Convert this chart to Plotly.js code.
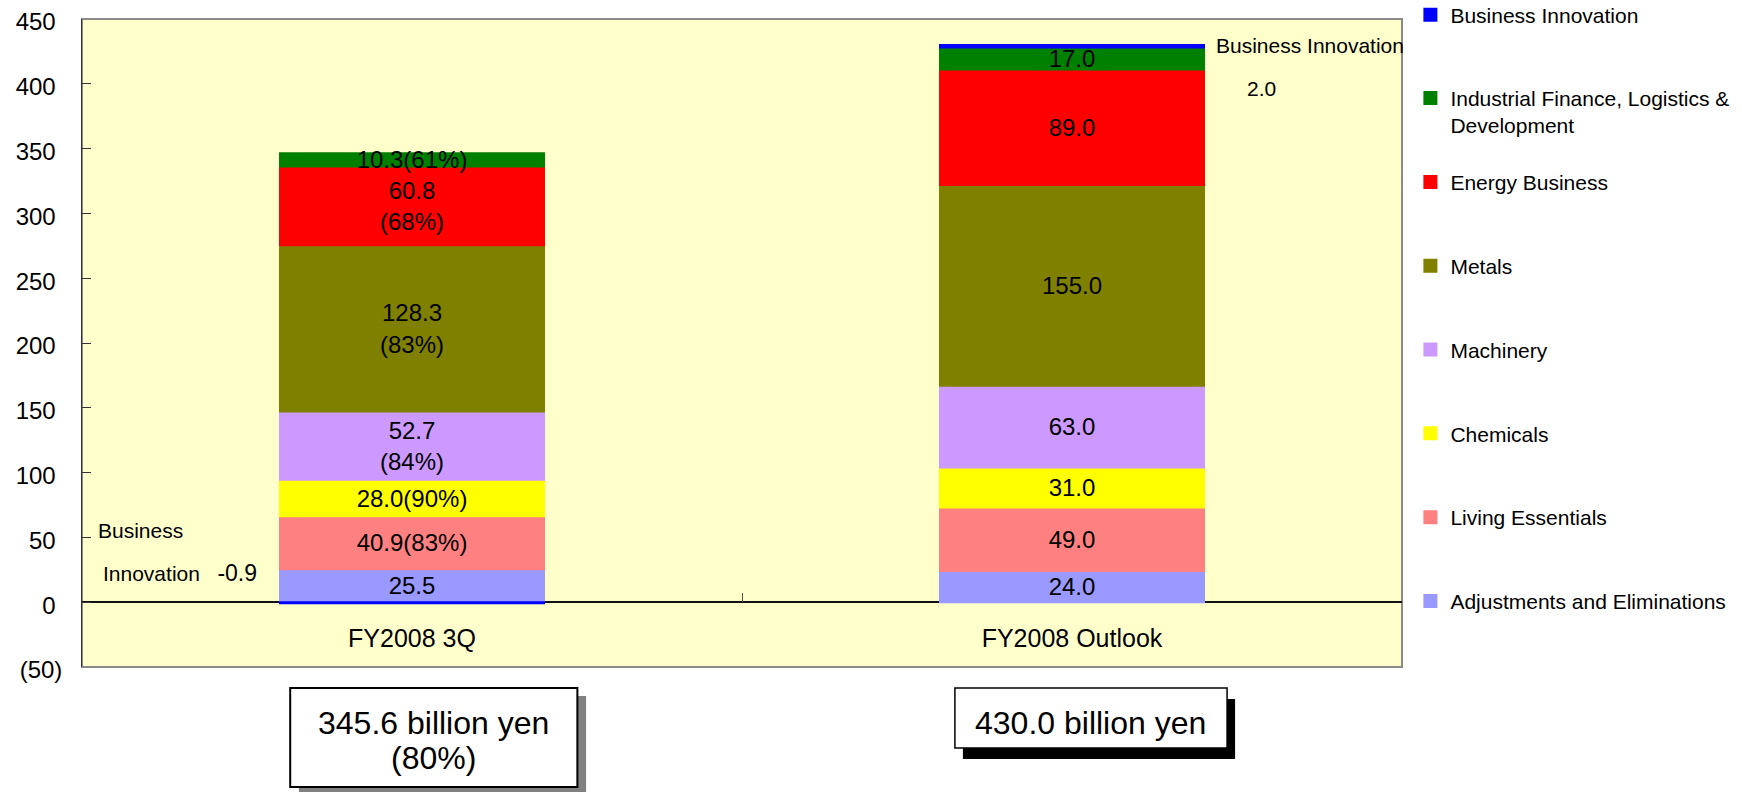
<!DOCTYPE html>
<html>
<head>
<meta charset="utf-8">
<script src="https://cdn.plot.ly/plotly-3.0.1.min.js"></script>
<style>
html, body { margin: 0; padding: 0; background: #ffffff; }
#chart { width: 1742px; height: 792px; }
</style>
</head>
<body>
<div id="chart"></div>
<script>
// ---------- data ----------
const categories = ['FY2008 3Q', 'FY2008 Outlook'];

const adjustments        = [25.5, 24.0];
const livingEssentials   = [40.9, 49.0];
const chemicals          = [28.0, 31.0];
const machinery          = [52.7, 63.0];
const metals             = [128.3, 155.0];
const energyBusiness     = [60.8, 89.0];
const industrialFinance  = [10.3, 17.0];
const businessInnovation = [-0.9, 2.0];

const adjustmentsText = ['25.5', '24.0'];
const livingText      = ['40.9(83%)', '49.0'];
const chemicalsText   = ['28.0(90%)', '31.0'];
const machineryText   = ['52.7<br>(84%)', '63.0'];
const metalsText      = ['128.3<br>(83%)', '155.0'];
const energyText      = ['60.8<br>(68%)', '89.0'];
const industrialText  = ['10.3(61%)', '17.0'];
const businessText    = ['', ''];

const totalProgress = ['(80%)', null];

const yTickVals = [-50, 0, 50, 100, 150, 200, 250, 300, 350, 400, 450];
const yTickText = ['(50)', '0', '50', '100', '150', '200', '250', '300', '350', '400', '450'];

// ---------- styling ----------
const FONT = 'Liberation Sans, Arial, Helvetica, sans-serif';
const PAD_POS = '\u00A0\u00A0\u00A0', PAD_NEG = '\u00A0\u00A0';
const yTickLabels = yTickText.map((t, i) => t + (yTickVals[i] < 0 ? PAD_NEG : PAD_POS));

const series = [
  { name: 'Adjustments and Eliminations', y: adjustments, text: adjustmentsText, color: '#9999FF', legend: 'legend2' },
  { name: 'Living Essentials', y: livingEssentials, text: livingText, color: '#FF8080', legend: 'legend2' },
  { name: 'Chemicals', y: chemicals, text: chemicalsText, color: '#FFFF00', legend: 'legend2' },
  { name: 'Machinery', y: machinery, text: machineryText, color: '#CC99FF', legend: 'legend2' },
  { name: 'Metals', y: metals, text: metalsText, color: '#808000', legend: 'legend2' },
  { name: 'Energy Business', y: energyBusiness, text: energyText, color: '#FF0000', legend: 'legend2' },
  { name: 'Industrial Finance, Logistics &<br>Development', y: industrialFinance, text: industrialText, color: '#008000', legend: 'legend' },
  { name: 'Business Innovation', y: businessInnovation, text: businessText, color: '#0000FF', legend: 'legend' }
];

const traces = series.map((s, i) => ({
  type: 'bar',
  x: categories,
  y: s.y,
  name: s.name,
  text: s.text,
  textposition: 'inside',
  insidetextanchor: 'middle',
  textangle: 0,
  constraintext: 'none',
  cliponaxis: false,
  textfont: { family: FONT, size: 24, color: '#000000' },
  insidetextfont: { family: FONT, size: 24, color: '#000000' },
  marker: { color: s.color, line: { width: 2, color: s.color } },
  legend: s.legend,
  legendgroup: s.name,
  legendrank: 1000 - i * 10,
  hoverinfo: 'skip'
}));

// totals per category
const allSeries = series.map(s => s.y);
const totals = categories.map((c, i) => allSeries.reduce((a, arr) => a + arr[i], 0));
const positiveTop = categories.map((c, i) => allSeries.reduce((a, arr) => a + Math.max(arr[i], 0), 0));

// pixel geometry of the plotting area (layout only)
const L = 81.7, R = 1402.3, T = 19, B = 667.3;
const W = R - L, H = B - T;
const px = p => (p - L) / W;
const py = p => (B - p) / H;

const boxes = [
  { x0: 290, x1: 577.3, y0: 688.3, y1: 787.3, sdx: 8.7, sdy: 8, shadow: '#808080', lw: 2, ty: [723.3, 758.3] },
  { x0: 955, x1: 1227.3, y0: 688.3, y1: 748.3, sdx: 8, sdy: 11, shadow: '#000000', lw: 1.5, ty: [723.3] }
];

const shapes = [
  { type: 'rect', xref: 'paper', yref: 'paper', x0: 0, x1: 1, y0: 0, y1: 1,
    line: { color: '#8a8a8a', width: 2 }, layer: 'below' }
];
boxes.forEach(b => {
  shapes.push({ type: 'rect', xref: 'paper', yref: 'paper',
    x0: px(b.x0 + b.sdx), x1: px(b.x1 + b.sdx), y0: py(b.y1 + b.sdy), y1: py(b.y0 + b.sdy),
    fillcolor: b.shadow, line: { width: 0 }, layer: 'above' });
  shapes.push({ type: 'rect', xref: 'paper', yref: 'paper',
    x0: px(b.x0), x1: px(b.x1), y0: py(b.y1), y1: py(b.y0),
    fillcolor: '#ffffff', line: { color: '#000000', width: b.lw }, layer: 'above' });
});

const annotations = [
  { xref: 'x', x: categories[0], xanchor: 'left', xshift: -316.5,
    yref: 'y', y: 0, yanchor: 'middle', yshift: 71.5,
    text: 'Business', showarrow: false, font: { family: FONT, size: 21, color: '#000' } },
  { xref: 'x', x: categories[0], xanchor: 'left', xshift: -310.9,
    yref: 'y', y: 0, yanchor: 'middle', yshift: 29.5,
    text: 'Innovation\u00A0\u00A0\u00A0<span style="font-size:23px">' + businessInnovation[0].toFixed(1) + '</span>',
    showarrow: false, font: { family: FONT, size: 21, color: '#000' } },
  { xref: 'x', x: categories[1], xanchor: 'left', xshift: 142,
    yref: 'y', y: positiveTop[1], yanchor: 'middle', yshift: -1,
    text: 'Business Innovation', showarrow: false, font: { family: FONT, size: 21, color: '#000' } },
  { xref: 'x', x: categories[1], xanchor: 'left', xshift: 173,
    yref: 'y', y: positiveTop[1], yanchor: 'middle', yshift: -44,
    text: businessInnovation[1].toFixed(1), showarrow: false, font: { family: FONT, size: 21, color: '#000' } }
];
boxes.forEach((b, i) => {
  const lines = [totals[i].toFixed(1) + ' billion yen'];
  if (totalProgress[i]) lines.push(totalProgress[i]);
  lines.forEach((t, k) => {
    annotations.push({ xref: 'paper', x: px((b.x0 + b.x1) / 2), xanchor: 'center',
      yref: 'paper', y: py(b.ty[k]), yanchor: 'middle',
      text: t, showarrow: false, font: { family: FONT, size: 32, color: '#000' } });
  });
});

const layout = {
  width: 1742, height: 792,
  margin: { l: L, r: 1742 - R, t: T, b: 792 - B, autoexpand: false },
  paper_bgcolor: '#ffffff',
  plot_bgcolor: '#FFFFCC',
  font: { family: FONT, color: '#000000' },
  barmode: 'relative',
  bargap: 0.6,
  xaxis: {
    type: 'category', range: [-0.5, 1.5], anchor: 'free', position: 0.1,
    showline: false, showgrid: false, zeroline: false,
    ticks: 'inside', tickson: 'boundaries', ticklen: 9, tickwidth: 1, tickcolor: '#555555',
    tickfont: { family: FONT, size: 25, color: '#000' }, ticklabelstandoff: 19,
    fixedrange: true
  },
  yaxis: {
    range: [-50, 450], tickvals: yTickVals, ticktext: yTickLabels,
    ticks: 'inside', ticklen: 9, tickwidth: 1, tickcolor: '#333333',
    showline: true, linecolor: '#333333', linewidth: 1.5,
    showgrid: false, zeroline: true, zerolinecolor: '#111111', zerolinewidth: 1.5,
    zerolinelayer: 'below traces',
    tickfont: { family: FONT, size: 24, color: '#000' }, ticklabelstandoff: 17.5, ticklabelshift: 3,
    fixedrange: true
  },
  legend: {
    x: px(1410.7), xanchor: 'left', y: py(-5.5), yanchor: 'top',
    traceorder: 'grouped', tracegroupgap: 53, valign: 'top',
    font: { family: FONT, size: 21, color: '#000' }, bgcolor: 'rgba(0,0,0,0)', borderwidth: 0
  },
  legend2: {
    x: px(1410.7), xanchor: 'left', y: py(161.85), yanchor: 'top',
    traceorder: 'grouped', tracegroupgap: 53.5, valign: 'top',
    font: { family: FONT, size: 21, color: '#000' }, bgcolor: 'rgba(0,0,0,0)', borderwidth: 0
  },
  shapes: shapes,
  annotations: annotations,
  hovermode: false
};

Plotly.newPlot('chart', traces, layout, { displayModeBar: false, staticPlot: true });
</script>
</body>
</html>
